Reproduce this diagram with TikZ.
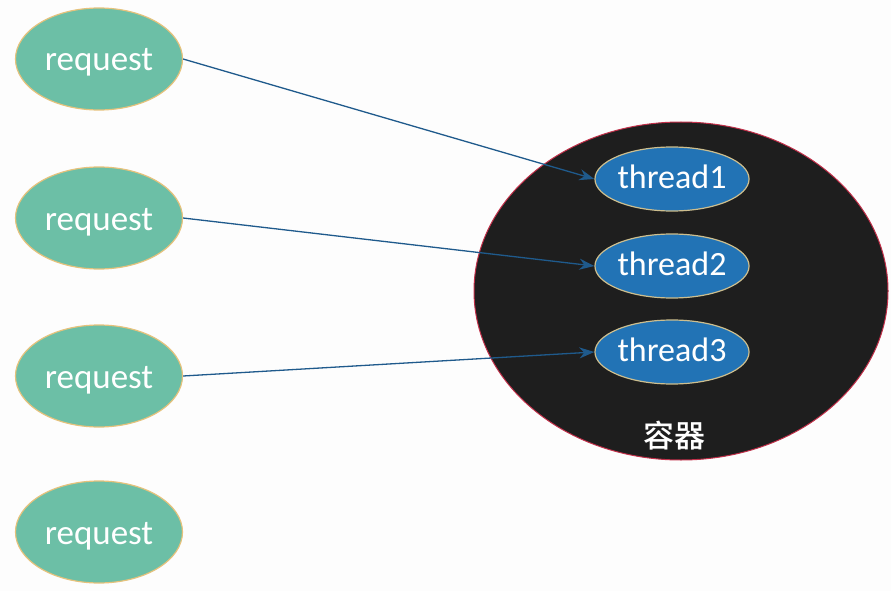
\documentclass[tikz,border=0pt]{standalone}
\usepackage{fontspec}
\setmainfont{Carlito}
\newfontfamily\cjk{Noto Sans CJK SC Medium}
\usetikzlibrary{shapes.geometric,arrows.meta}
\definecolor{reqfill}{HTML}{6CBFA6}
\definecolor{reqdraw}{HTML}{E6C27C}
\definecolor{thfill}{HTML}{2273B5}
\definecolor{thdraw}{HTML}{CDBE8E}
\definecolor{boxfill}{HTML}{1E1E1E}
\definecolor{boxdraw}{HTML}{C2304A}
\definecolor{arr}{HTML}{1F5A8C}
\definecolor{bg}{HTML}{FDFDFD}
\tikzset{
  req/.style={ellipse, fill=reqfill, draw=reqdraw, line width=1.2pt, minimum width=167pt, minimum height=102pt, inner sep=0pt, text=white, font=\fontsize{35}{40}\selectfont, text height=26pt, text depth=2pt},
  thr/.style={ellipse, fill=thfill, draw=thdraw, line width=1.2pt, minimum width=153pt, minimum height=64pt, inner sep=0pt, text=white, font=\fontsize{34}{40}\selectfont, text height=21pt, text depth=3pt},
  cont/.style={ellipse, fill=boxfill, draw=boxdraw, line width=1pt, minimum width=414pt, minimum height=338pt, inner sep=0pt},
  conn/.style={draw=arr, line width=1.3pt, -{Stealth[length=15pt,width=11pt]}}
}
\begin{document}
\begin{tikzpicture}[x=1pt,y=-1pt]
\fill[bg] (0,0) rectangle (891,591);
\useasboundingbox (0,0) rectangle (891,591);
\node[cont] (box) at (681,291) {};
\node[req] (r1) at (99,59) {request};
\node[req] (r2) at (99,218) {request};
\node[req] (r3) at (99,376) {request};
\node[req] (r4) at (99,532) {request};
\node[thr] (t1) at (672,179) {thread1};
\node[thr] (t2) at (672,266) {thread2};
\node[thr] (t3) at (672,352) {thread3};
\node[text=white, font=\cjk\fontsize{31}{34}\selectfont] (lbl) at (674,436) {容器};
\draw[conn] (r1.east) -- (t1.west);
\draw[conn] (r2.east) -- (t2.west);
\draw[conn] (r3.east) -- (t3.west);
\end{tikzpicture}
\end{document}
